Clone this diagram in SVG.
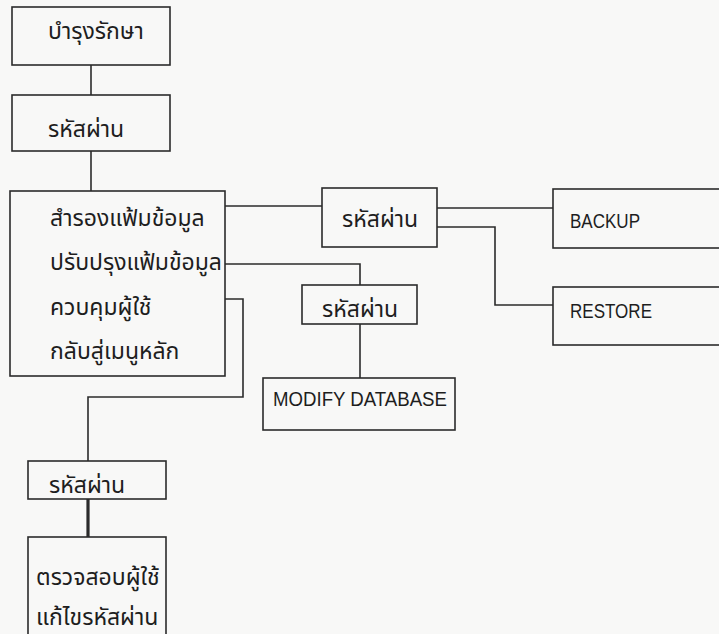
<svg xmlns="http://www.w3.org/2000/svg" width="719" height="634" viewBox="0 0 719 634">
  <style>
    .box { fill: none; stroke: #2b2b2b; stroke-width: 1.6; }
    .wire { fill: none; stroke: #2b2b2b; stroke-width: 1.6; }
    .thick { stroke-width: 3.2; }
    .th { font-family: "Noto Sans Thai", "Noto Sans", "DejaVu Sans", sans-serif; font-size: 23px; fill: #1e1e1e; }
    .en { font-family: "Liberation Sans", Arial, sans-serif; font-size: 19.5px; fill: #1e1e1e; }
  </style>
  <rect x="0" y="0" width="719" height="634" fill="#f8f8f7"/>

  <g id="connectors">
    <path class="wire" d="M91,65 V95"/>
    <path class="wire" d="M91,151 V191"/>
    <path class="wire" d="M225,206 H322"/>
    <path class="wire" d="M225,264 H360 V285"/>
    <path class="wire" d="M360,324 V378"/>
    <path class="wire" d="M437,208 H553"/>
    <path class="wire" d="M437,227 H495 V305 H553"/>
    <path class="wire" d="M225,299 H243 V397 H88 V461"/>
    <path class="wire thick" d="M88,499 V537"/>
  </g>

  <g id="maintenance">
    <rect class="box" x="12" y="7" width="158" height="58"/>
    <text class="th" x="48" y="39">บำรุงรักษา</text>
  </g>

  <g id="password-main">
    <rect class="box" x="12" y="95" width="158" height="56"/>
    <text class="th" x="48" y="137">รหัสผ่าน</text>
  </g>

  <g id="menu">
    <rect class="box" x="10" y="191" width="215" height="185"/>
    <text class="th" x="50" y="226">สำรองแฟ้มข้อมูล</text>
    <text class="th" x="50" y="270">ปรับปรุงแฟ้มข้อมูล</text>
    <text class="th" x="50" y="315">ควบคุมผู้ใช้</text>
    <text class="th" x="50" y="359">กลับสู่เมนูหลัก</text>
  </g>

  <g id="password-backup">
    <rect class="box" x="322" y="188" width="115" height="59"/>
    <text class="th" x="342" y="227">รหัสผ่าน</text>
  </g>

  <g id="password-modify">
    <rect class="box" x="302" y="285" width="115" height="39"/>
    <text class="th" x="322" y="317">รหัสผ่าน</text>
  </g>

  <g id="modify-database">
    <rect class="box" x="263" y="378" width="192" height="52"/>
    <text class="en" x="273" y="406" textLength="174" lengthAdjust="spacingAndGlyphs">MODIFY DATABASE</text>
  </g>

  <g id="backup">
    <rect class="box" x="553" y="189" width="200" height="59"/>
    <text class="en" x="570" y="228" textLength="70" lengthAdjust="spacingAndGlyphs">BACKUP</text>
  </g>

  <g id="restore">
    <rect class="box" x="553" y="287" width="200" height="58"/>
    <text class="en" x="570" y="318" textLength="82" lengthAdjust="spacingAndGlyphs">RESTORE</text>
  </g>

  <g id="password-users">
    <rect class="box" x="28" y="461" width="138" height="38"/>
    <text class="th" x="49" y="493">รหัสผ่าน</text>
  </g>

  <g id="user-admin">
    <rect class="box" x="28" y="537" width="138" height="120"/>
    <text class="th" x="36" y="585">ตรวจสอบผู้ใช้</text>
    <text class="th" x="36" y="625">แก้ไขรหัสผ่าน</text>
  </g>
</svg>
